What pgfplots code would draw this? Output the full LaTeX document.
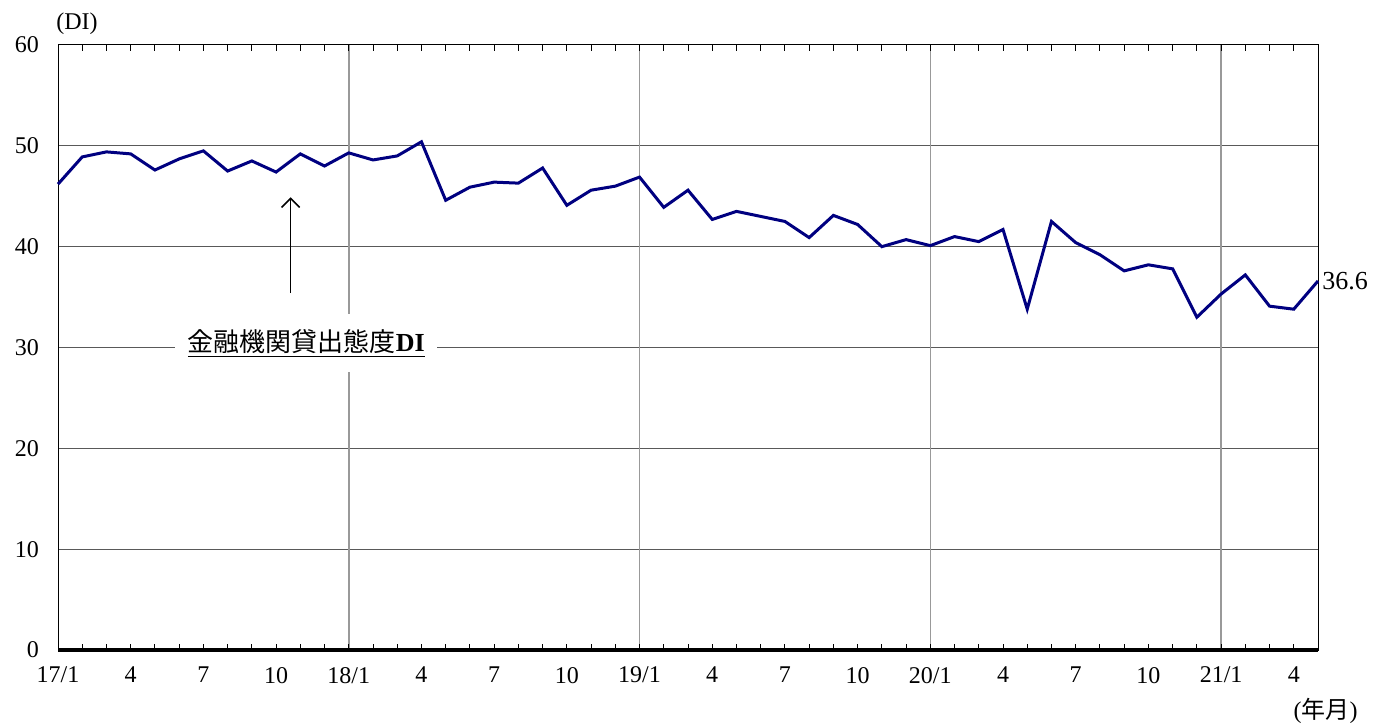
\documentclass[border=0pt]{standalone}
\usepackage{pgfplots}
\pgfplotsset{compat=1.18}
\usetikzlibrary{arrows.meta}
\usepackage{fontspec}
\setmainfont{Liberation Serif}
\newfontfamily\jp{Noto Sans CJK JP}
\definecolor{navyline}{HTML}{000080}
\pgfplotstableread{
x y
0 46.2
1 48.9
2 49.4
3 49.2
4 47.6
5 48.7
6 49.5
7 47.5
8 48.5
9 47.4
10 49.2
11 48.0
12 49.3
13 48.6
14 49.0
15 50.4
16 44.6
17 45.9
18 46.4
19 46.3
20 47.8
21 44.1
22 45.6
23 46.0
24 46.9
25 43.9
26 45.6
27 42.7
28 43.5
29 43.0
30 42.5
31 40.9
32 43.1
33 42.2
34 40.0
35 40.7
36 40.1
37 41.0
38 40.5
39 41.7
40 33.8
41 42.5
42 40.4
43 39.2
44 37.6
45 38.2
46 37.8
47 33.0
48 35.3
49 37.2
50 34.1
51 33.8
52 36.6
}\dataDI
\begin{document}
\begin{tikzpicture}
\begin{axis}[
  name=ax,
  scale only axis,
  width=630pt, height=302.5pt,
  xmin=0, xmax=52, ymin=0, ymax=60,
  clip=false,
  font=\fontsize{12}{13}\selectfont,
  /pgf/number format/assume math mode=true,
  ytick={0,10,...,60},
  ymajorgrids,
  major grid style={draw=black!65, line width=0.5pt},
  ytick style={draw=none},
  xtick={0,3,...,51},
  xticklabels={17/1,4,7,10,18/1,4,7,10,19/1,4,7,10,20/1,4,7,10,21/1,4},
  minor xtick={0,1,...,52},
  tick align=inside,
  xtick style={draw=black, line width=0.5pt},
  major tick length=3pt, minor tick length=3pt,
  extra x ticks={12,24,36,48},
  extra x tick labels={},
  extra x tick style={grid=major, major grid style={draw=black!40, line width=0.8pt}},
  axis line style={draw=black, line width=0.5pt},
  yticklabel style={xshift=-6pt},
  xticklabel style={yshift=-5pt},
]
\addplot[navyline, line width=1.5pt] table[x=x,y=y]{\dataDI};
\node[anchor=west, font=\fontsize{13}{14}\selectfont, inner sep=2pt] at (axis cs:52,36.6) {36.6};
\draw[-{Straight Barb[length=4.5pt,width=9pt]}, line width=0.8pt] (axis cs:9.6,35.4) -- (axis cs:9.6,44.9);
\node[fill=white, minimum width=131pt, minimum height=29pt, inner sep=0pt, font=\fontsize{13}{14}\selectfont] at (axis cs:10.25,30.4) {\underline{{\jp 金融機関貸出態度}\textbf{DI}}};
\draw[line width=1.6pt] (rel axis cs:0,0) -- (rel axis cs:1,0);
\end{axis}
\node[anchor=south west, font=\fontsize{12}{13}\selectfont, inner sep=0pt] at ([shift={(-1pt,5pt)}]ax.north west) {(DI)};
\node[anchor=north east, font=\fontsize{12}{13}\selectfont, inner sep=0pt] at ([shift={(20pt,-24pt)}]ax.south east) {({\jp 年月})};
\pgfresetboundingbox
\path[use as bounding box] ([shift={(-29pt,-36.5pt)}]ax.south west) rectangle ([shift={(34pt,22.5pt)}]ax.north east);
\end{tikzpicture}
\end{document}
